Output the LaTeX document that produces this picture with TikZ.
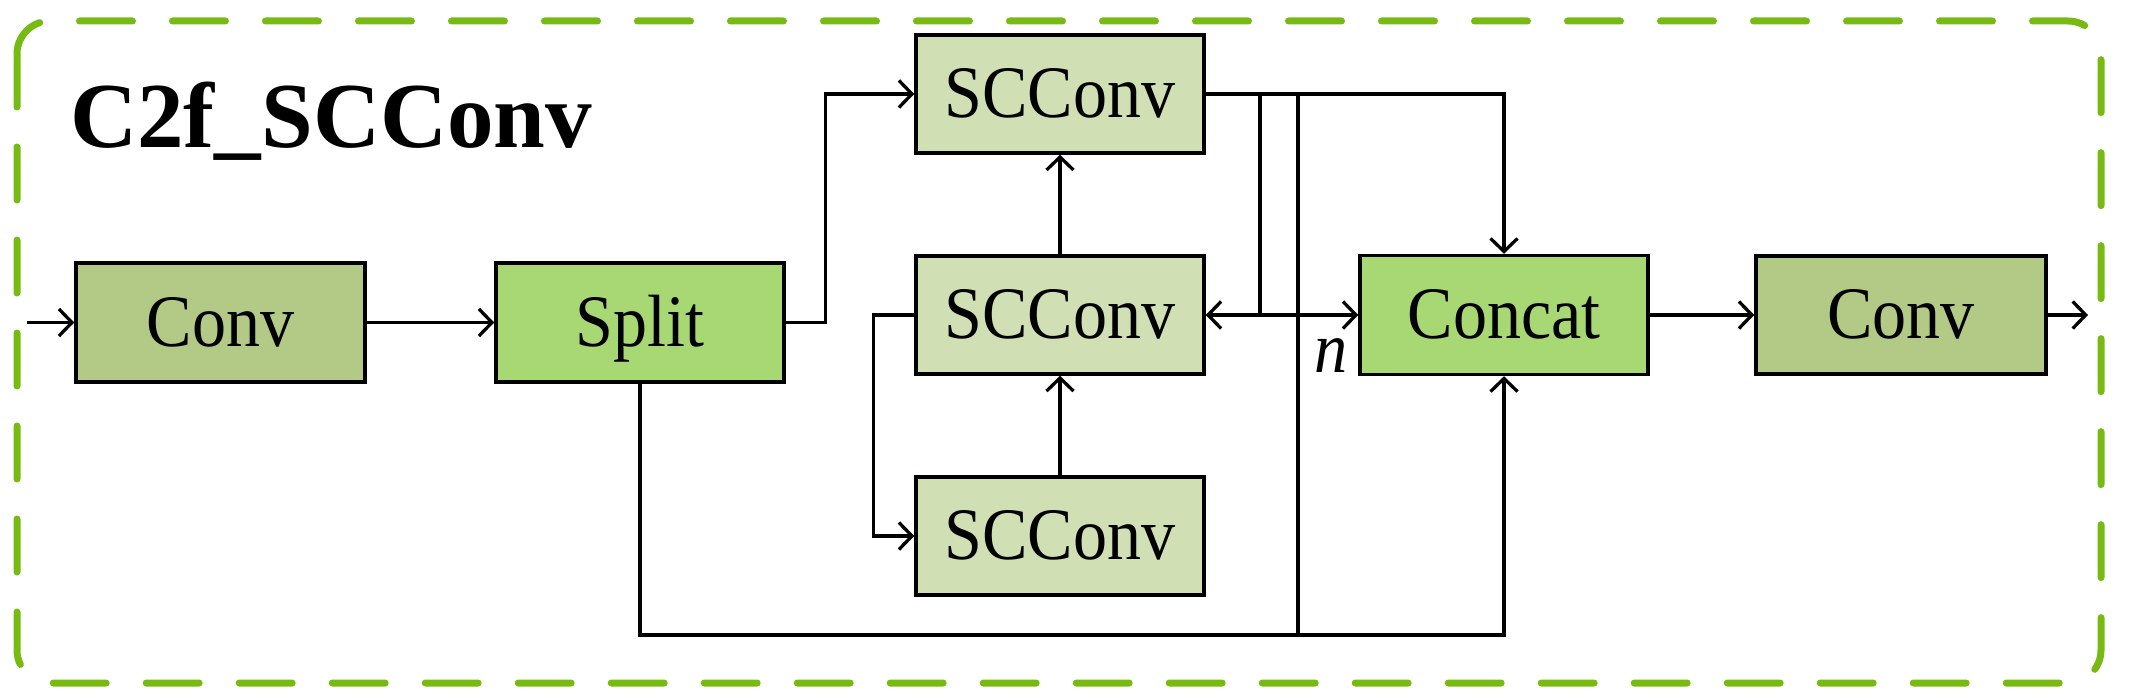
\documentclass[tikz,border=0pt]{standalone}
\usepackage{fontspec}
\usepackage{graphicx}
\setmainfont{Liberation Serif}
\usetikzlibrary{arrows.meta}
\definecolor{convc}{RGB}{179,201,134}
\definecolor{splitc}{RGB}{168,216,116}
\definecolor{sccc}{RGB}{209,223,180}
\definecolor{borderc}{RGB}{119,187,18}
\newcommand{\narrowtxt}[1]{\scalebox{0.92}[1]{#1}}
\begin{document}
\begin{tikzpicture}[x=1pt,y=-1pt,
  box/.style={draw=black, line width=3.5pt, minimum width=288pt, minimum height=118pt,
    inner sep=0pt, text height=50pt, text depth=3pt, font=\fontsize{74}{84}\selectfont},
  wire/.style={line width=3.3pt, black},
  conn/.style={wire, -{Straight Barb[length=13pt,width=27pt,line width=3.3pt]}},
  frame/.style={draw=borderc, line width=7pt, line cap=round, dash pattern=on 53pt off 40pt, rounded corners=33pt}]
\useasboundingbox (0,0) rectangle (2129,698);
\draw[frame] (17,21) rectangle (2101,683);
\node[anchor=base west, inner sep=0pt, font=\fontsize{93}{100}\selectfont\bfseries] (title) at (70,148) {C2f\_SCConv};
\node[box, fill=convc, minimum width=289pt, minimum height=119pt] (conv1) at (220.5,322.5) {\narrowtxt{Conv}};
\node[box, fill=splitc, minimum height=119pt] (split) at (640,322.5) {\narrowtxt{Split}};
\node[box, fill=sccc] (sc1) at (1060,94) {\narrowtxt{SCConv}};
\node[box, fill=sccc] (sc2) at (1060,315) {\narrowtxt{SCConv}};
\node[box, fill=sccc] (sc3) at (1060,536) {\narrowtxt{SCConv}};
\node[box, fill=splitc, minimum height=119pt] (concat) at (1504,315) {\narrowtxt{Concat}};
\node[box, fill=convc, minimum width=290pt] (conv2) at (1901,315) {\narrowtxt{Conv}};
\node[anchor=base west, inner sep=0pt, font=\fontsize{72}{80}\selectfont\itshape] (nlab) at (1314,372) {\narrowtxt{n}};
\coordinate (in) at (27,322.5);
\coordinate (out) at (2088,315);
\coordinate (bl) at (640,635);
\coordinate (b1) at (1260,94);
\coordinate (b2) at (1260,315);
\coordinate (v1) at (1298,94);
\coordinate (v2) at (1298,635);
\draw[conn] (in) -- (conv1.west);
\draw[conn] (conv1.east) -- (split.west);
\draw[conn] (split.east) -- ++(40,0) |- (sc1.west);
\draw[conn] (sc1.east) -| (concat.north);
\draw[conn] (split.south) -- (bl) -| (concat.south);
\draw[wire] (b1) -- (b2);
\draw[conn] (b2) -- (sc2.east);
\draw[conn] (b2) -- (concat.west);
\draw[wire] (v1) -- (v2);
\draw[conn] (sc2.north) -- (sc1.south);
\draw[conn] (sc3.north) -- (sc2.south);
\draw[conn] (sc2.west) -- ++(-41,0) |- (sc3.west);
\draw[conn] (concat.east) -- (conv2.west);
\draw[conn] (conv2.east) -- (out);
\end{tikzpicture}
\end{document}
